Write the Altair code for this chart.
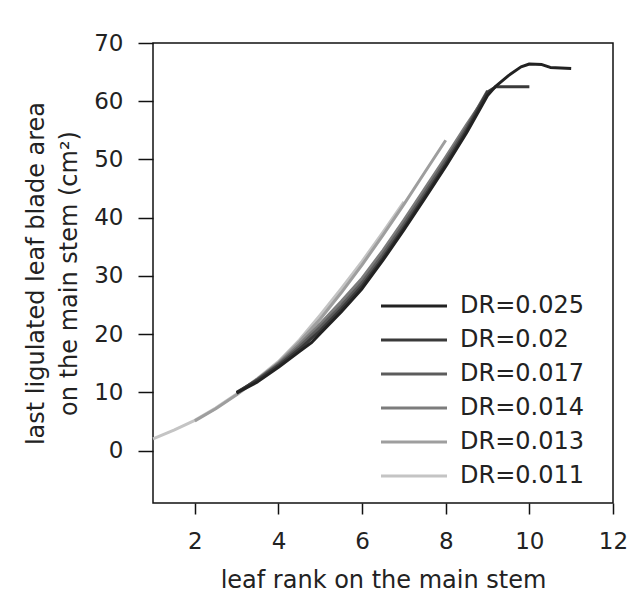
import altair as alt
import pandas as pd

series_names = ["DR=0.025", "DR=0.02", "DR=0.017", "DR=0.014", "DR=0.013", "DR=0.011"]
series_colors = ["#222222", "#3a3a3a", "#5c5c5c", "#7c7c7c", "#9e9e9e", "#c4c4c4"]

x_025 = [3, 3.5, 4, 4.5, 4.8, 5, 5.5, 6, 6.5, 7, 7.5, 8, 8.5, 9, 9.2, 9.5, 9.8, 10, 10.3, 10.5, 11]
y_025 = [9.9, 11.8, 14.3, 17.0, 18.6, 20.1, 23.8, 27.8, 32.7, 37.9, 43.3, 48.8, 54.6, 61.0, 62.6, 64.4, 65.9, 66.4, 66.3, 65.8, 65.6]

x_020 = [3, 3.5, 4, 4.5, 5, 5.5, 6, 6.5, 7, 7.5, 8, 8.5, 9, 9.2, 10]
y_020 = [10.0, 12.1, 14.6, 17.4, 20.6, 24.3, 28.3, 33.1, 38.3, 43.7, 49.2, 55.0, 61.6, 62.5, 62.5]

x_017 = [3, 3.5, 4, 4.5, 5, 5.5, 6, 6.5, 7, 7.5, 8, 8.5, 9]
y_017 = [9.9, 12.2, 14.8, 17.8, 21.2, 24.9, 28.9, 33.7, 38.9, 44.3, 49.8, 55.5, 61.8]

x_014 = [3, 3.5, 4, 4.5, 5, 5.5, 6, 6.5, 7, 7.5, 8, 8.5, 9]
y_014 = [9.8, 12.3, 15.0, 18.2, 21.8, 25.6, 29.6, 34.4, 39.6, 45.0, 50.4, 56.0, 61.3]

x_013 = [2, 2.5, 3, 3.5, 4, 4.5, 5, 5.5, 6, 6.5, 7, 7.5, 8]
y_013 = [5.1, 7.2, 9.6, 12.2, 15.1, 18.7, 22.6, 27.1, 31.9, 37.0, 42.3, 47.8, 53.3]

x_011 = [1, 1.5, 2, 2.5, 3, 3.5, 4, 4.5, 5, 5.5, 6, 6.5, 7]
y_011 = [2.0, 3.5, 5.2, 7.3, 9.7, 12.4, 15.3, 19.0, 23.3, 27.8, 32.5, 37.5, 42.7]

x_ticks = [2, 4, 6, 8, 10, 12]
y_ticks = [0, 10, 20, 30, 40, 50, 60, 70]

series_x = [x_025, x_020, x_017, x_014, x_013, x_011]
series_y = [y_025, y_020, y_017, y_014, y_013, y_011]

rows = []
# lightest drawn first so darker curves sit on top
for name, xs, ys in reversed(list(zip(series_names, series_x, series_y))):
    for xv, yv in zip(xs, ys):
        rows.append({"series": name, "x": xv, "y": yv})
df = pd.DataFrame(rows)

FONT = "DejaVu Sans"
TXT = "#222222"

chart = alt.Chart(df).mark_line(strokeWidth=3, strokeJoin="round", strokeCap="butt").encode(
    x=alt.X(
        "x:Q",
        scale=alt.Scale(domain=[1, 12], nice=False, zero=False),
        axis=alt.Axis(
            values=x_ticks, title="leaf rank on the main stem", grid=False, domain=False,
            tickSize=11, tickWidth=1.5, tickColor="#111111",
            labelFont=FONT, labelFontSize=23, labelColor=TXT, labelPadding=16, labelFlush=False,
            titleFont=FONT, titleFontSize=24, titleFontWeight="normal", titleColor=TXT,
            titleBaseline="alphabetic", titleY=84,
        ),
    ),
    y=alt.Y(
        "y:Q",
        scale=alt.Scale(domain=[-9, 70], nice=False, zero=False),
        axis=alt.Axis(
            values=y_ticks, title=["last ligulated leaf  blade area", "on the  main stem (cm²)"],
            grid=False, domain=False,
            tickSize=15, tickWidth=1.5, tickColor="#111111",
            labelFont=FONT, labelFontSize=23, labelColor=TXT, labelPadding=15,
            titleFont=FONT, titleFontSize=24, titleFontWeight="normal", titleColor=TXT,
            titleAngle=270, titleBaseline="alphabetic", titleAlign="center",
            titleX=-110, titleY=230, titleLineHeight=33,
        ),
    ),
    color=alt.Color(
        "series:N",
        sort=series_names,
        scale=alt.Scale(domain=series_names, range=series_colors),
        legend=alt.Legend(
            title=None, orient="none", legendX=221, legendY=251,
            symbolType="M-1,0H12.2", symbolSize=100, symbolStrokeWidth=3,
            labelFont=FONT, labelFontSize=24, labelColor=TXT, labelOffset=62,
            rowPadding=10, padding=0,
        ),
    ),
).properties(
    width=460, height=460,
    autosize=alt.AutoSizeParams(type="none"),
    padding={"left": 153, "top": 43, "right": 20, "bottom": 100},
).configure(
    background="white",
    view=alt.ViewConfig(stroke="#111111", strokeWidth=1.5),
)

chart.save("out.html", embed_options={"renderer": "svg", "actions": False})
